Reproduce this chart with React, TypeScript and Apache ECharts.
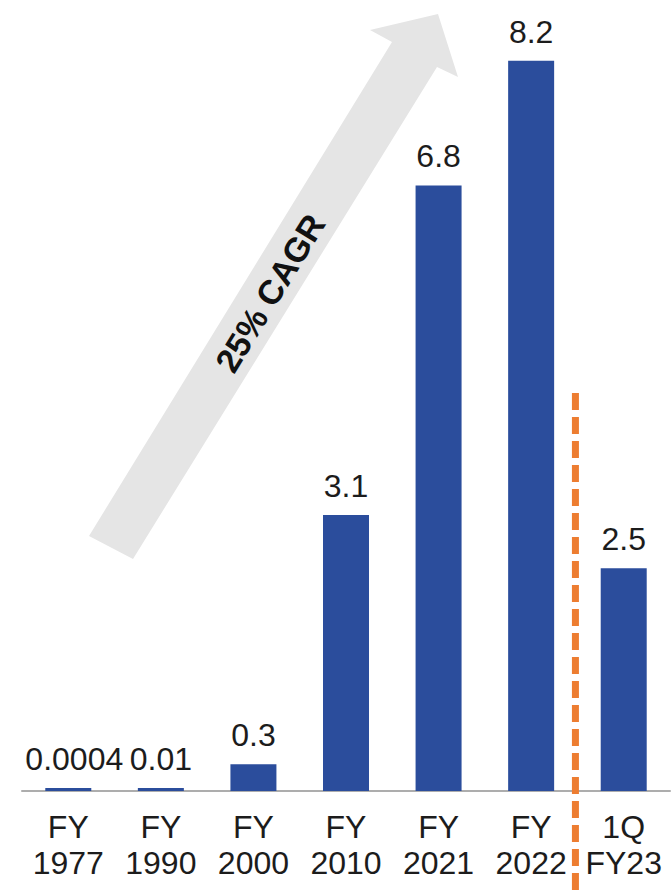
import React, { useEffect, useRef } from "react";
import * as echarts from "echarts";

const categories = ["FY\n1977", "FY\n1990", "FY\n2000", "FY\n2010", "FY\n2021", "FY\n2022", "1Q\nFY23"];
const values = [0.0004, 0.01, 0.3, 3.1, 6.8, 8.2, 2.5];
const valueLabels = ["0.0004", "0.01", "0.3", "3.1", "6.8", "8.2", "2.5"];
const arrowText = "25% CAGR";

const FONT = "'Liberation Sans', Arial, Helvetica, sans-serif";

export default function App() {
  const ref = useRef<HTMLDivElement>(null);

  useEffect(() => {
    if (!ref.current) return;
    const chart = echarts.init(ref.current, undefined, { renderer: "svg" });

    const option: any = {
      animation: false,
      backgroundColor: "#ffffff",
      grid: { left: 22, right: 1, top: 34, bottom: 105, containLabel: false },
      xAxis: {
        type: "category",
        data: categories,
        axisLine: { show: true, lineStyle: { color: "#ADADAD", width: 2 } },
        axisTick: { show: false },
        axisLabel: {
          interval: 0,
          fontSize: 32,
          lineHeight: 36,
          margin: 18,
          color: "#1c1c1c",
          fontFamily: FONT,
        },
        splitLine: { show: false },
      },
      yAxis: {
        type: "value",
        min: 0,
        max: 8.5,
        show: false,
        splitLine: { show: false },
      },
      series: [
        {
          type: "bar",
          z: 3,
          barWidth: 46,
          barMinHeight: 3,
          data: values.map((v, i) => ({
            value: v,
            label: i === 0 ? { offset: [6, 0] } : undefined,
          })),
          itemStyle: { color: "#2B4D9C" },
          label: {
            show: true,
            position: "top",
            distance: 13,
            fontSize: 32,
            color: "#1c1c1c",
            fontFamily: FONT,
            formatter: (p: any) => valueLabels[p.dataIndex],
          },
        },
      ],
    };
    chart.setOption(option);

    const x5 = chart.convertToPixel({ xAxisIndex: 0 }, 5) as number;
    const x6 = chart.convertToPixel({ xAxisIndex: 0 }, 6) as number;
    const mid = (x5 + x6) / 2 - 2;
    const angle = (58.5 * Math.PI) / 180;

    chart.setOption({
      graphic: [
        {
          type: "polygon",
          z: 1,
          shape: {
            points: [
              [89, 536],
              [133, 559],
              [437, 67],
              [458, 77],
              [438, 14],
              [370, 30],
              [392, 42],
            ],
          },
          style: { fill: "#E5E5E5" },
        },
        {
          type: "text",
          z: 2,
          x: 270,
          y: 293,
          rotation: angle,
          style: {
            text: arrowText,
            fontSize: 34,
            fontWeight: "bold",
            fontFamily: FONT,
            fill: "#111111",
            align: "center",
            verticalAlign: "middle",
          },
        },
        {
          type: "line",
          z: 5,
          shape: { x1: mid, y1: 393, x2: mid, y2: 896 },
          style: { stroke: "#ED7D31", lineWidth: 7, lineDash: [17, 7] },
        },
      ],
    });

    return () => {
      chart.dispose();
    };
  }, []);

  return (
    <div
      ref={ref}
      style={{ position: "absolute", left: 0, top: 0, width: 671, height: 896 }}
    />
  );
}
